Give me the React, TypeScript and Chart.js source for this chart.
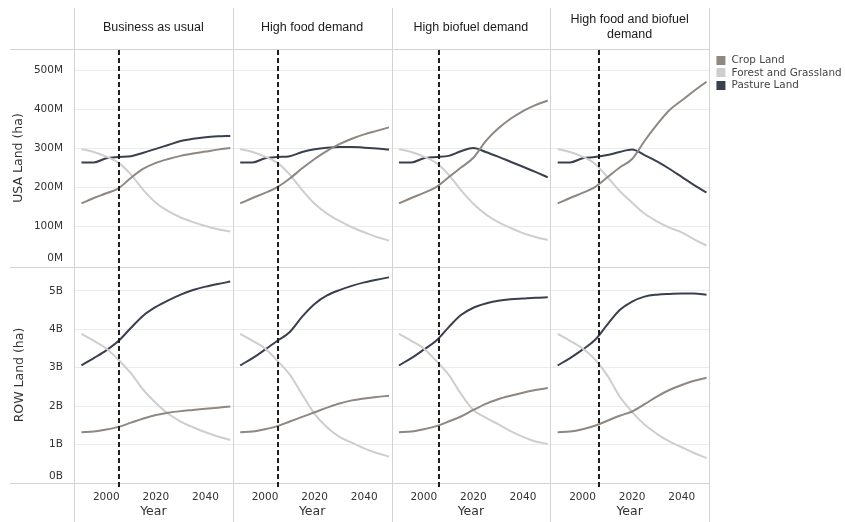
import React, { useEffect, useRef } from "react";
import { Chart, registerables } from "chart.js";

Chart.register(...registerables);

// ---------- data ----------
const years = [1990, 1995, 2000, 2005, 2010, 2015, 2020, 2025, 2030, 2035, 2040, 2045, 2050];
const scenarios: (string | string[])[] = [
  "Business as usual",
  "High food demand",
  "High biofuel demand",
  ["High food and biofuel", "demand"],
];
const seriesNames = ["Crop Land", "Forest and Grassland", "Pasture Land"];
const seriesColors = ["#8e8782", "#cecece", "#3a3f4d"];
const usaTicks = [0, 100, 200, 300, 400, 500]; // million ha
const rowTicks = [0, 1, 2, 3, 4, 5]; // billion ha
const yearTicks = [2000, 2020, 2040];
const refYears = [2005, 2005.4, 2006.2, 2006.5];

// USA land, million ha
const usaCropBau = [158, 172, 184, 197, 224, 247, 262, 272, 280, 286, 291, 296, 300];
const usaCropFood = [158, 172, 185, 200, 222, 248, 272, 293, 310, 324, 335, 344, 353];
const usaCropBio = [158, 172, 185, 200, 225, 250, 275, 318, 350, 375, 395, 410, 422];
const usaCropBoth = [158, 172, 185, 200, 225, 250, 272, 318, 360, 397, 422, 447, 470];

const usaForestBau = [297, 290, 278, 262, 232, 192, 160, 138, 122, 110, 100, 92, 86];
const usaForestFood = [297, 290, 278, 262, 232, 192, 157, 132, 113, 97, 84, 72, 63];
const usaForestBio = [297, 290, 278, 262, 232, 192, 157, 130, 110, 95, 82, 72, 64];
const usaForestBoth = [297, 290, 278, 260, 226, 190, 160, 132, 112, 96, 84, 66, 50];

const usaPastureBau = [263, 263, 274, 277, 279, 288, 298, 308, 318, 324, 328, 330, 331];
const usaPastureFood = [263, 263, 274, 277, 279, 290, 297, 301, 303, 303, 301, 299, 296];
const usaPastureBio = [263, 263, 274, 277, 280, 292, 300, 290, 278, 265, 252, 239, 225];
const usaPastureBoth = [263, 263, 274, 277, 282, 290, 296, 282, 266, 247, 226, 205, 186];

// Rest of world land, billion ha
const rowCropBau = [1.32, 1.34, 1.39, 1.46, 1.57, 1.68, 1.77, 1.83, 1.87, 1.9, 1.93, 1.96, 1.99];
const rowCropFood = [1.32, 1.34, 1.4, 1.48, 1.6, 1.72, 1.84, 1.96, 2.07, 2.15, 2.2, 2.24, 2.27];
const rowCropBio = [1.32, 1.34, 1.4, 1.48, 1.6, 1.73, 1.9, 2.06, 2.18, 2.27, 2.35, 2.42, 2.47];
const rowCropBoth = [1.32, 1.34, 1.4, 1.49, 1.62, 1.75, 1.86, 2.05, 2.25, 2.42, 2.55, 2.66, 2.74];

const rowForestBau = [3.88, 3.7, 3.5, 3.2, 2.85, 2.42, 2.08, 1.8, 1.6, 1.45, 1.32, 1.21, 1.12];
const rowForestFood = [3.88, 3.7, 3.5, 3.18, 2.82, 2.3, 1.8, 1.45, 1.2, 1.05, 0.9, 0.78, 0.69];
const rowForestBio = [3.88, 3.7, 3.5, 3.18, 2.82, 2.32, 1.9, 1.7, 1.53, 1.35, 1.2, 1.08, 1.02];
const rowForestBoth = [3.88, 3.7, 3.5, 3.22, 2.8, 2.25, 1.85, 1.52, 1.28, 1.08, 0.93, 0.78, 0.65];

const rowPastureBau = [3.06, 3.25, 3.45, 3.7, 4.04, 4.36, 4.58, 4.75, 4.9, 5.02, 5.11, 5.18, 5.24];
const rowPastureFood = [3.06, 3.25, 3.47, 3.7, 3.93, 4.33, 4.66, 4.88, 5.02, 5.13, 5.22, 5.29, 5.35];
const rowPastureBio = [3.06, 3.25, 3.47, 3.7, 4.05, 4.37, 4.56, 4.67, 4.74, 4.78, 4.8, 4.82, 4.83];
const rowPastureBoth = [3.06, 3.25, 3.47, 3.72, 4.12, 4.5, 4.72, 4.85, 4.9, 4.92, 4.93, 4.93, 4.9];

const usaSeries = [
  [usaCropBau, usaCropFood, usaCropBio, usaCropBoth],
  [usaForestBau, usaForestFood, usaForestBio, usaForestBoth],
  [usaPastureBau, usaPastureFood, usaPastureBio, usaPastureBoth],
];
const rowSeries = [
  [rowCropBau, rowCropFood, rowCropBio, rowCropBoth],
  [rowForestBau, rowForestFood, rowForestBio, rowForestBoth],
  [rowPastureBau, rowPastureFood, rowPastureBio, rowPastureBoth],
];

const FONT = "DejaVu Sans";
const HEAD_FONT = "Liberation Sans";

function swatch(color: string) {
  const c = document.createElement("canvas");
  c.width = 15;
  c.height = 9;
  const g = c.getContext("2d")!;
  g.fillStyle = color;
  g.fillRect(5, 0, 9, 9);
  return c;
}

const framePlugin = {
  id: "frame",
  beforeDatasetsDraw(chart: any) {
    const ctx = chart.ctx;
    const xs = [0, 1, 2, 3].map((i) => chart.scales["x" + i]);
    const yU = chart.scales.yUsa;
    const yR = chart.scales.yRow;
    const top = chart.scales.h0.top;
    const bottom = xs[0].bottom;
    ctx.save();
    ctx.strokeStyle = "#d3d3d3";
    ctx.lineWidth = 1;
    ctx.beginPath();
    const vx = [xs[0].left, ...xs.map((s: any) => s.right)];
    for (const x of vx) {
      const px = Math.round(x) + 0.5;
      ctx.moveTo(px, top);
      ctx.lineTo(px, bottom);
    }
    for (const y of [yU.top, yU.bottom, yR.bottom]) {
      const py = Math.round(y) + 0.5;
      ctx.moveTo(10, py);
      ctx.lineTo(xs[3].right, py);
    }
    ctx.stroke();
    ctx.restore();
  },
  afterDatasetsDraw(chart: any) {
    const ctx = chart.ctx;
    const yU = chart.scales.yUsa;
    const yR = chart.scales.yRow;
    ctx.save();
    ctx.strokeStyle = "#1e1e1e";
    ctx.lineWidth = 2;
    ctx.setLineDash([5, 3]);
    ctx.beginPath();
    for (let i = 0; i < 4; i++) {
      const s = chart.scales["x" + i];
      const px = Math.round(s.getPixelForValue(refYears[i]));
      ctx.moveTo(px, yU.top + 1);
      ctx.lineTo(px, yR.bottom + 5);
    }
    ctx.stroke();
    ctx.restore();
  },
};

export default function App() {
  const ref = useRef<HTMLCanvasElement>(null);

  useEffect(() => {
    document.body.style.margin = "0";
    Chart.defaults.font.family = FONT;

    const datasets: any[] = [];
    for (let p = 0; p < 4; p++) {
      for (let s = 0; s < 3; s++) {
        datasets.push({
          label: seriesNames[s],
          data: years.map((yr, k) => ({ x: yr, y: usaSeries[s][p][k] })),
          xAxisID: "x" + p,
          yAxisID: "yUsa",
          borderColor: seriesColors[s],
          backgroundColor: seriesColors[s],
          borderWidth: 2,
          pointRadius: 0,
          cubicInterpolationMode: "monotone",
        });
        datasets.push({
          label: seriesNames[s],
          data: years.map((yr, k) => ({ x: yr, y: rowSeries[s][p][k] })),
          xAxisID: "x" + p,
          yAxisID: "yRow",
          borderColor: seriesColors[s],
          backgroundColor: seriesColors[s],
          borderWidth: 2,
          pointRadius: 0,
          cubicInterpolationMode: "monotone",
        });
      }
    }

    const gridColor = (c: any) => (c.tick && c.tick.value === 0 ? "rgba(0,0,0,0)" : "#ebebeb");

    // Note: Chart.js places left/top stacked boxes in reverse declaration order,
    // so the lower row (ROW) and the last header are declared first.
    const scales: any = {
      yRow: {
        type: "linear",
        axis: "y",
        position: "left",
        stack: "rows",
        stackWeight: 216,
        min: 0,
        max: 5.62,
        bounds: "data",
        afterBuildTicks: (sc: any) => {
          sc.ticks = rowTicks.map((v) => ({ value: v }));
        },
        afterFit: (sc: any) => {
          sc.width = 74;
        },
        ticks: {
          autoSkip: false,
          padding: 11,
          color: "#333",
          font: { family: FONT, size: 10.5 },
          callback: (v: any) => (v === 0 ? ["0B", ""] : v + "B"),
        },
        grid: { color: gridColor, drawTicks: false, lineWidth: 1 },
        border: { display: false },
        title: {
          display: true,
          text: "ROW Land (ha)",
          color: "#333",
          font: { family: FONT, size: 12.5 },
          padding: { top: 12.5, bottom: 0 },
        },
      },
      yUsa: {
        type: "linear",
        axis: "y",
        position: "left",
        stack: "rows",
        stackWeight: 218,
        min: -5,
        max: 554,
        bounds: "data",
        afterBuildTicks: (sc: any) => {
          sc.ticks = usaTicks.map((v) => ({ value: v }));
        },
        afterFit: (sc: any) => {
          sc.width = 74;
        },
        ticks: {
          autoSkip: false,
          padding: 11,
          color: "#333",
          font: { family: FONT, size: 10.5 },
          callback: (v: any) => (v === 0 ? ["0M", ""] : v + "M"),
        },
        grid: { color: gridColor, drawTicks: false, lineWidth: 1 },
        border: { display: false },
        title: {
          display: true,
          text: "USA Land (ha)",
          color: "#333",
          font: { family: FONT, size: 12.5 },
          padding: { top: 11.5, bottom: 0 },
        },
      },
    };

    for (let p = 0; p < 4; p++) {
      scales["x" + p] = {
        type: "linear",
        axis: "x",
        position: "bottom",
        stack: "cols",
        min: 1987,
        max: 2051,
        bounds: "data",
        afterBuildTicks: (sc: any) => {
          sc.ticks = yearTicks.map((v) => ({ value: v }));
        },
        afterFit: (sc: any) => {
          sc.height = 39;
        },
        ticks: {
          autoSkip: false,
          maxRotation: 0,
          padding: 7.5,
          color: "#333",
          font: { family: FONT, size: 10.5 },
          callback: (v: any) => String(v),
        },
        grid: { display: false, drawTicks: false },
        border: { display: false },
        title: {
          display: true,
          text: "Year",
          color: "#333",
          font: { family: FONT, size: 12.5 },
          padding: { top: 0, bottom: 2.5 },
        },
      };
    }
    for (let p = 3; p >= 0; p--) {
      const txt = scenarios[p];
      scales["h" + p] = {
        type: "linear",
        axis: "x",
        position: "top",
        stack: "heads",
        min: 0,
        max: 1,
        afterFit: (sc: any) => {
          sc.height = 41;
        },
        ticks: { display: false },
        grid: { display: false, drawTicks: false },
        border: { display: false },
        title: {
          display: true,
          text: txt,
          color: "#1a1a1a",
          font: { family: HEAD_FONT, size: 12.5 },
          padding: { top: Array.isArray(txt) ? 4.5 : 12, bottom: 0 },
        },
      };
    }

    const chart = new Chart(ref.current!, {
      type: "line",
      data: { datasets },
      options: {
        animation: false,
        responsive: false,
        maintainAspectRatio: false,
        events: [],
        layout: { padding: { top: 8, left: 0, right: 0, bottom: 0 } },
        scales,
        plugins: {
          tooltip: { enabled: false },
          legend: {
            display: true,
            position: "right",
            align: "start",
            maxWidth: 136,
            title: {
              display: true,
              text: "",
              font: { size: 10 },
              padding: { top: 32.4, bottom: 0 },
            },
            labels: {
              usePointStyle: true,
              pointStyleWidth: 15,
              boxHeight: 9,
              padding: 2.4,
              color: "#444",
              font: { family: FONT, size: 10.4 },
              generateLabels: () =>
                seriesNames.map((name, i) => ({
                  text: name,
                  fillStyle: seriesColors[i],
                  strokeStyle: seriesColors[i],
                  lineWidth: 0,
                  pointStyle: swatch(seriesColors[i]),
                  hidden: false,
                  datasetIndex: i,
                  fontColor: "#444",
                })),
            },
          },
        },
      } as any,
      plugins: [framePlugin],
    });

    return () => chart.destroy();
  }, []);

  return (
    <div style={{ width: 845, height: 522 }}>
      <canvas ref={ref} width={845} height={522} style={{ display: "block" }} />
    </div>
  );
}
